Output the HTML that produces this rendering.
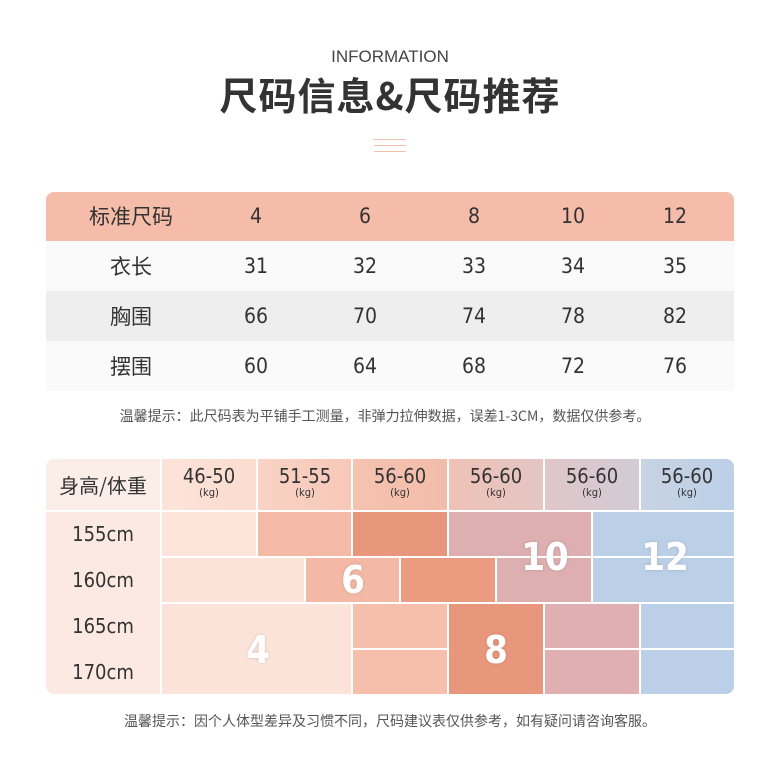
<!DOCTYPE html>
<html><head><meta charset="utf-8"><style>
*{margin:0;padding:0;box-sizing:border-box}
body{width:780px;height:780px;background:#fff;position:relative;overflow:hidden;font-family:"Liberation Sans","Noto Sans CJK SC",sans-serif;color:#333}
.a{position:absolute}
.t{position:absolute;text-align:center;transform:translateX(-50%);white-space:nowrap;line-height:20px;font-family:"DejaVu Sans Condensed","Liberation Sans",sans-serif}
.z{font-family:"Noto Sans CJK SC",sans-serif}
.c{position:absolute}
.n{position:absolute;color:#fff;font-weight:bold;font-size:38px;line-height:38px;transform:translate(-50%,-50%);text-shadow:0 0 3px rgba(0,0,0,0.15);font-family:"DejaVu Sans Condensed","Liberation Sans",sans-serif}
.kg{font-size:11px;display:block;line-height:14px}
</style></head><body>
<div class="t" style="left:390px;top:47px;font-size:17px;color:#444;font-family:'Liberation Sans',sans-serif">INFORMATION</div>
<div class="t z" style="left:390px;top:74px;font-size:38px;line-height:40px;font-weight:bold;color:#333;letter-spacing:1px">尺码信息&amp;尺码推荐</div>
<div class="a" style="left:374px;top:139px;width:32px;height:1px;background:#f0c0b0"></div>
<div class="a" style="left:374px;top:145px;width:32px;height:1px;background:#f0c0b0"></div>
<div class="a" style="left:374px;top:151px;width:32px;height:1px;background:#f0c0b0"></div>

<div class="a" style="left:46px;top:192px;width:688px;height:49px;background:#f4bca9;border-radius:8px 8px 0 0"></div>
<div class="a" style="left:46px;top:241px;width:688px;height:50px;background:#fbfafa"></div>
<div class="a" style="left:46px;top:291px;width:688px;height:50px;background:#eeeeee"></div>
<div class="a" style="left:46px;top:341px;width:688px;height:50px;background:#fbfafa"></div>
<div style="font-size:21px;color:#333">
<div class="t z" style="left:131px;top:206px">标准尺码</div>
<div class="t" style="left:256px;top:206px">4</div><div class="t" style="left:365px;top:206px">6</div><div class="t" style="left:474px;top:206px">8</div><div class="t" style="left:573px;top:206px">10</div><div class="t" style="left:675px;top:206px">12</div>
<div class="t z" style="left:131px;top:256px">衣长</div>
<div class="t" style="left:256px;top:256px">31</div><div class="t" style="left:365px;top:256px">32</div><div class="t" style="left:474px;top:256px">33</div><div class="t" style="left:573px;top:256px">34</div><div class="t" style="left:675px;top:256px">35</div>
<div class="t z" style="left:131px;top:306px">胸围</div>
<div class="t" style="left:256px;top:306px">66</div><div class="t" style="left:365px;top:306px">70</div><div class="t" style="left:474px;top:306px">74</div><div class="t" style="left:573px;top:306px">78</div><div class="t" style="left:675px;top:306px">82</div>
<div class="t z" style="left:131px;top:356px">摆围</div>
<div class="t" style="left:256px;top:356px">60</div><div class="t" style="left:365px;top:356px">64</div><div class="t" style="left:474px;top:356px">68</div><div class="t" style="left:573px;top:356px">72</div><div class="t" style="left:675px;top:356px">76</div>
</div>
<div class="t z" style="left:385px;top:406px;font-size:14px;color:#555">温馨提示：此尺码表为平铺手工测量，非弹力拉伸数据，误差1-3CM，数据仅供参考。</div>

<div class="c" style="left:46px;top:459px;width:114px;height:51px;background:#fbeee8;border-radius:8px 0 0 0"></div>
<div class="c" style="left:46px;top:512px;width:114px;height:182px;background:#fbe9e2;border-radius:0 0 0 8px"></div>
<div class="c" style="left:162px;top:459px;width:94px;height:51px;background:linear-gradient(90deg,#fce3d9,#fbdccf)"></div>
<div class="c" style="left:258px;top:459px;width:93px;height:51px;background:linear-gradient(90deg,#f9d3c5,#f7c8b8)"></div>
<div class="c" style="left:353px;top:459px;width:94px;height:51px;background:linear-gradient(90deg,#f6c3b1,#f2bcaa)"></div>
<div class="c" style="left:449px;top:459px;width:94px;height:51px;background:linear-gradient(90deg,#efc2b6,#e4c5c3)"></div>
<div class="c" style="left:545px;top:459px;width:94px;height:51px;background:linear-gradient(90deg,#dfc6c9,#d3cbd6)"></div>
<div class="c" style="left:641px;top:459px;width:93px;height:51px;background:linear-gradient(90deg,#c8d3e3,#bcd0e8);border-radius:0 8px 0 0"></div>
<div class="c" style="left:162px;top:512px;width:94px;height:44px;background:#fce4da"></div>
<div class="c" style="left:258px;top:512px;width:93px;height:44px;background:#f4baa6"></div>
<div class="c" style="left:353px;top:512px;width:94px;height:44px;background:#e9977c"></div>
<div class="c" style="left:449px;top:512px;width:142px;height:44px;background:#deafb1"></div>
<div class="c" style="left:593px;top:512px;width:141px;height:44px;background:#bbd0e7"></div>
<div class="c" style="left:162px;top:558px;width:142px;height:44px;background:#fce3d9"></div>
<div class="c" style="left:306px;top:558px;width:93px;height:44px;background:#f3b9a4"></div>
<div class="c" style="left:401px;top:558px;width:94px;height:44px;background:#ea9b80"></div>
<div class="c" style="left:497px;top:558px;width:94px;height:44px;background:#deafb1"></div>
<div class="c" style="left:593px;top:558px;width:141px;height:44px;background:#bbd0e7"></div>
<div class="c" style="left:162px;top:604px;width:189px;height:90px;background:#fce3d9"></div>
<div class="c" style="left:353px;top:604px;width:94px;height:44px;background:#f5bfab"></div>
<div class="c" style="left:449px;top:604px;width:94px;height:90px;background:#e9977c"></div>
<div class="c" style="left:545px;top:604px;width:94px;height:44px;background:#dfafb1"></div>
<div class="c" style="left:641px;top:604px;width:93px;height:44px;background:#bbd0e8"></div>
<div class="c" style="left:353px;top:650px;width:94px;height:44px;background:#f5bfab"></div>
<div class="c" style="left:545px;top:650px;width:94px;height:44px;background:#dfafb1"></div>
<div class="c" style="left:641px;top:650px;width:93px;height:44px;background:#bbd0e8;border-radius:0 0 8px 0"></div>

<div style="font-size:20px;color:#333">
<div class="t z" style="left:103px;top:475px">身高/体重</div>
<div class="t" style="left:103px;top:524px">155cm</div>
<div class="t" style="left:103px;top:570px">160cm</div>
<div class="t" style="left:103px;top:616px">165cm</div>
<div class="t" style="left:103px;top:662px">170cm</div>
</div>
<div style="font-size:20px;color:#333">
<div class="t" style="left:209px;top:466px">46-50<span class="kg">(kg)</span></div>
<div class="t" style="left:305px;top:466px">51-55<span class="kg">(kg)</span></div>
<div class="t" style="left:400px;top:466px">56-60<span class="kg">(kg)</span></div>
<div class="t" style="left:496px;top:466px">56-60<span class="kg">(kg)</span></div>
<div class="t" style="left:592px;top:466px">56-60<span class="kg">(kg)</span></div>
<div class="t" style="left:687px;top:466px">56-60<span class="kg">(kg)</span></div>
</div>
<div class="n" style="left:258px;top:650px">4</div>
<div class="n" style="left:353px;top:580px">6</div>
<div class="n" style="left:496px;top:650px">8</div>
<div class="n" style="left:545px;top:557px">10</div>
<div class="n" style="left:665px;top:557px">12</div>

<div class="t z" style="left:390px;top:711px;font-size:14px;color:#555">温馨提示：因个人体型差异及习惯不同，尺码建议表仅供参考，如有疑问请咨询客服。</div>
</body></html>
